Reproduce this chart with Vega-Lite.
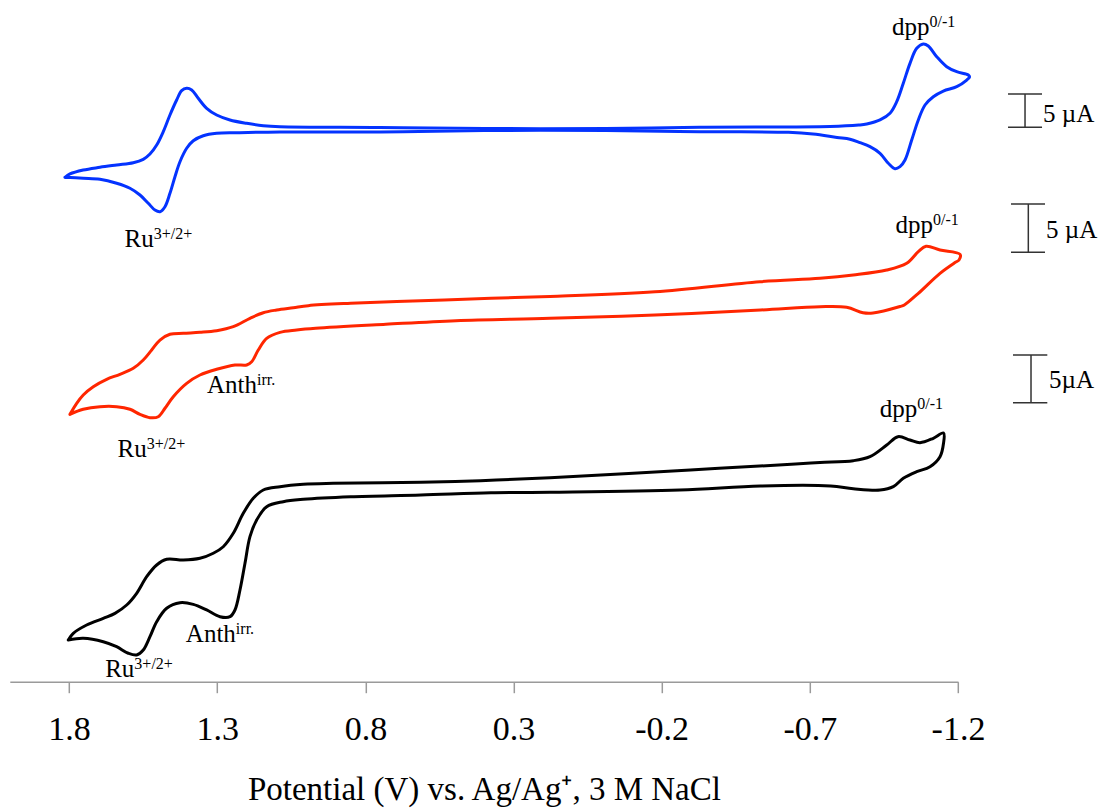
{
  "$schema": "https://vega.github.io/schema/vega-lite/v6.json",
  "width": 948.2,
  "height": 681.7,
  "autosize": {"type": "none"},
  "padding": {"left": 9.8, "top": 0, "right": 142, "bottom": 126.3},
  "background": "white",
  "config": {
    "view": {"stroke": null},
    "font": "Liberation Serif",
    "text": {"font": "Liberation Serif", "color": "black"}
  },
  "datasets": {
    "cv": [
      {"scan": "A", "n": 1, "v": 1.8138, "i": 73.99},
      {"scan": "A", "n": 2, "v": 1.7970, "i": 74.48},
      {"scan": "A", "n": 3, "v": 1.7521, "i": 75.06},
      {"scan": "A", "n": 4, "v": 1.6957, "i": 75.46},
      {"scan": "A", "n": 5, "v": 1.6394, "i": 75.80},
      {"scan": "A", "n": 6, "v": 1.5833, "i": 76.13},
      {"scan": "A", "n": 7, "v": 1.5496, "i": 76.63},
      {"scan": "A", "n": 8, "v": 1.5270, "i": 77.41},
      {"scan": "A", "n": 9, "v": 1.5043, "i": 78.73},
      {"scan": "A", "n": 10, "v": 1.4821, "i": 80.68},
      {"scan": "A", "n": 11, "v": 1.4595, "i": 83.13},
      {"scan": "A", "n": 12, "v": 1.4369, "i": 85.33},
      {"scan": "A", "n": 13, "v": 1.4200, "i": 86.70},
      {"scan": "A", "n": 14, "v": 1.4031, "i": 87.05},
      {"scan": "A", "n": 15, "v": 1.3862, "i": 86.80},
      {"scan": "A", "n": 16, "v": 1.3640, "i": 85.58},
      {"scan": "A", "n": 17, "v": 1.3356, "i": 84.11},
      {"scan": "A", "n": 18, "v": 1.3019, "i": 83.13},
      {"scan": "A", "n": 19, "v": 1.2570, "i": 82.40},
      {"scan": "A", "n": 20, "v": 1.2006, "i": 81.91},
      {"scan": "A", "n": 21, "v": 1.1446, "i": 81.56},
      {"scan": "A", "n": 22, "v": 1.0882, "i": 81.41},
      {"scan": "A", "n": 23, "v": 0.7507, "i": 81.30},
      {"scan": "A", "n": 24, "v": 0.3997, "i": 81.15},
      {"scan": "A", "n": 25, "v": -0.0120, "i": 81.15},
      {"scan": "A", "n": 26, "v": -0.3293, "i": 81.34},
      {"scan": "A", "n": 27, "v": -0.7680, "i": 81.44},
      {"scan": "A", "n": 28, "v": -0.8649, "i": 81.66},
      {"scan": "A", "n": 29, "v": -0.8919, "i": 81.81},
      {"scan": "A", "n": 30, "v": -0.9368, "i": 82.40},
      {"scan": "A", "n": 31, "v": -0.9705, "i": 83.38},
      {"scan": "A", "n": 32, "v": -0.9932, "i": 85.08},
      {"scan": "A", "n": 33, "v": -1.0154, "i": 87.78},
      {"scan": "A", "n": 34, "v": -1.0380, "i": 90.71},
      {"scan": "A", "n": 35, "v": -1.0607, "i": 92.91},
      {"scan": "A", "n": 36, "v": -1.0829, "i": 93.55},
      {"scan": "A", "n": 37, "v": -1.0998, "i": 93.25},
      {"scan": "A", "n": 38, "v": -1.1282, "i": 91.68},
      {"scan": "A", "n": 39, "v": -1.1619, "i": 90.22},
      {"scan": "A", "n": 40, "v": -1.1957, "i": 89.48},
      {"scan": "A", "n": 41, "v": -1.2348, "i": 89.00},
      {"scan": "A", "n": 42, "v": -1.2389, "i": 88.70},
      {"scan": "A", "n": 43, "v": -1.2294, "i": 88.26},
      {"scan": "A", "n": 44, "v": -1.1957, "i": 87.28},
      {"scan": "A", "n": 45, "v": -1.1504, "i": 86.65},
      {"scan": "A", "n": 46, "v": -1.1167, "i": 85.81},
      {"scan": "A", "n": 47, "v": -1.0887, "i": 84.60},
      {"scan": "A", "n": 48, "v": -1.0661, "i": 82.40},
      {"scan": "A", "n": 49, "v": -1.0438, "i": 79.46},
      {"scan": "A", "n": 50, "v": -1.0212, "i": 76.53},
      {"scan": "A", "n": 51, "v": -1.0043, "i": 75.55},
      {"scan": "A", "n": 52, "v": -0.9874, "i": 75.24},
      {"scan": "A", "n": 53, "v": -0.9648, "i": 76.05},
      {"scan": "A", "n": 54, "v": -0.9368, "i": 77.51},
      {"scan": "A", "n": 55, "v": -0.9030, "i": 78.48},
      {"scan": "A", "n": 56, "v": -0.8693, "i": 79.07},
      {"scan": "A", "n": 57, "v": -0.8355, "i": 79.57},
      {"scan": "A", "n": 58, "v": -0.7917, "i": 79.83},
      {"scan": "A", "n": 59, "v": -0.7107, "i": 80.34},
      {"scan": "A", "n": 60, "v": -0.6280, "i": 80.59},
      {"scan": "A", "n": 61, "v": -0.3293, "i": 80.67},
      {"scan": "A", "n": 62, "v": -0.0120, "i": 80.86},
      {"scan": "A", "n": 63, "v": 0.3997, "i": 80.86},
      {"scan": "A", "n": 64, "v": 0.7507, "i": 80.64},
      {"scan": "A", "n": 65, "v": 1.0882, "i": 80.64},
      {"scan": "A", "n": 66, "v": 1.2344, "i": 80.53},
      {"scan": "A", "n": 67, "v": 1.3019, "i": 80.45},
      {"scan": "A", "n": 68, "v": 1.3471, "i": 80.09},
      {"scan": "A", "n": 69, "v": 1.3808, "i": 79.36},
      {"scan": "A", "n": 70, "v": 1.4031, "i": 78.25},
      {"scan": "A", "n": 71, "v": 1.4257, "i": 76.28},
      {"scan": "A", "n": 72, "v": 1.4426, "i": 74.08},
      {"scan": "A", "n": 73, "v": 1.4595, "i": 71.64},
      {"scan": "A", "n": 74, "v": 1.4763, "i": 69.68},
      {"scan": "A", "n": 75, "v": 1.4932, "i": 68.95},
      {"scan": "A", "n": 76, "v": 1.5101, "i": 69.19},
      {"scan": "A", "n": 77, "v": 1.5327, "i": 70.18},
      {"scan": "A", "n": 78, "v": 1.5607, "i": 71.39},
      {"scan": "A", "n": 79, "v": 1.5945, "i": 72.38},
      {"scan": "A", "n": 80, "v": 1.6394, "i": 73.11},
      {"scan": "A", "n": 81, "v": 1.6957, "i": 73.70},
      {"scan": "A", "n": 82, "v": 1.7521, "i": 73.85},
      {"scan": "A", "n": 83, "v": 1.8138, "i": 73.99},

      {"scan": "B", "n": 1, "v": 1.7970, "i": 39.22},
      {"scan": "B", "n": 2, "v": 1.7743, "i": 40.84},
      {"scan": "B", "n": 3, "v": 1.7521, "i": 42.06},
      {"scan": "B", "n": 4, "v": 1.7183, "i": 43.27},
      {"scan": "B", "n": 5, "v": 1.6731, "i": 44.36},
      {"scan": "B", "n": 6, "v": 1.6282, "i": 45.09},
      {"scan": "B", "n": 7, "v": 1.5833, "i": 45.97},
      {"scan": "B", "n": 8, "v": 1.5496, "i": 47.19},
      {"scan": "B", "n": 9, "v": 1.5212, "i": 48.66},
      {"scan": "B", "n": 10, "v": 1.4932, "i": 50.12},
      {"scan": "B", "n": 11, "v": 1.4595, "i": 50.96},
      {"scan": "B", "n": 12, "v": 1.4146, "i": 51.11},
      {"scan": "B", "n": 13, "v": 1.3582, "i": 51.25},
      {"scan": "B", "n": 14, "v": 1.3019, "i": 51.49},
      {"scan": "B", "n": 15, "v": 1.2458, "i": 52.08},
      {"scan": "B", "n": 16, "v": 1.1895, "i": 53.31},
      {"scan": "B", "n": 17, "v": 1.1446, "i": 54.13},
      {"scan": "B", "n": 18, "v": 1.0994, "i": 54.53},
      {"scan": "B", "n": 19, "v": 1.0433, "i": 54.86},
      {"scan": "B", "n": 20, "v": 0.9927, "i": 55.16},
      {"scan": "B", "n": 21, "v": 0.8496, "i": 55.51},
      {"scan": "B", "n": 22, "v": 0.6127, "i": 55.89},
      {"scan": "B", "n": 23, "v": 0.3761, "i": 56.24},
      {"scan": "B", "n": 24, "v": 0.1770, "i": 56.51},
      {"scan": "B", "n": 25, "v": -0.1774, "i": 57.21},
      {"scan": "B", "n": 26, "v": -0.5318, "i": 58.68},
      {"scan": "B", "n": 27, "v": -0.7343, "i": 59.18},
      {"scan": "B", "n": 28, "v": -0.8467, "i": 59.66},
      {"scan": "B", "n": 29, "v": -0.9594, "i": 60.39},
      {"scan": "B", "n": 30, "v": -1.0269, "i": 61.38},
      {"scan": "B", "n": 31, "v": -1.0661, "i": 63.08},
      {"scan": "B", "n": 32, "v": -1.0920, "i": 63.87},
      {"scan": "B", "n": 33, "v": -1.1393, "i": 63.33},
      {"scan": "B", "n": 34, "v": -1.2068, "i": 62.70},
      {"scan": "B", "n": 35, "v": -1.2034, "i": 61.86},
      {"scan": "B", "n": 36, "v": -1.1899, "i": 61.49},
      {"scan": "B", "n": 37, "v": -1.1393, "i": 59.91},
      {"scan": "B", "n": 38, "v": -1.0661, "i": 56.97},
      {"scan": "B", "n": 39, "v": -1.0188, "i": 55.26},
      {"scan": "B", "n": 40, "v": -1.0043, "i": 55.04},
      {"scan": "B", "n": 41, "v": -0.9132, "i": 54.09},
      {"scan": "B", "n": 42, "v": -0.8794, "i": 54.13},
      {"scan": "B", "n": 43, "v": -0.8244, "i": 54.92},
      {"scan": "B", "n": 44, "v": -0.7343, "i": 55.01},
      {"scan": "B", "n": 45, "v": -0.5335, "i": 54.53},
      {"scan": "B", "n": 46, "v": -0.1774, "i": 53.79},
      {"scan": "B", "n": 47, "v": 0.1770, "i": 53.31},
      {"scan": "B", "n": 48, "v": 0.4942, "i": 52.96},
      {"scan": "B", "n": 49, "v": 0.7311, "i": 52.43},
      {"scan": "B", "n": 50, "v": 0.9677, "i": 51.84},
      {"scan": "B", "n": 51, "v": 1.0319, "i": 51.59},
      {"scan": "B", "n": 52, "v": 1.0882, "i": 51.25},
      {"scan": "B", "n": 53, "v": 1.1331, "i": 50.37},
      {"scan": "B", "n": 54, "v": 1.1615, "i": 48.66},
      {"scan": "B", "n": 55, "v": 1.1837, "i": 46.94},
      {"scan": "B", "n": 56, "v": 1.2006, "i": 46.46},
      {"scan": "B", "n": 57, "v": 1.2401, "i": 46.46},
      {"scan": "B", "n": 58, "v": 1.3019, "i": 45.83},
      {"scan": "B", "n": 59, "v": 1.3582, "i": 44.99},
      {"scan": "B", "n": 60, "v": 1.4031, "i": 43.77},
      {"scan": "B", "n": 61, "v": 1.4483, "i": 41.81},
      {"scan": "B", "n": 62, "v": 1.4763, "i": 40.11},
      {"scan": "B", "n": 63, "v": 1.4990, "i": 38.87},
      {"scan": "B", "n": 64, "v": 1.5270, "i": 38.73},
      {"scan": "B", "n": 65, "v": 1.5607, "i": 39.22},
      {"scan": "B", "n": 66, "v": 1.5945, "i": 39.96},
      {"scan": "B", "n": 67, "v": 1.6394, "i": 40.34},
      {"scan": "B", "n": 68, "v": 1.6957, "i": 40.34},
      {"scan": "B", "n": 69, "v": 1.7521, "i": 39.96},
      {"scan": "B", "n": 70, "v": 1.7970, "i": 39.22},

      {"scan": "C", "n": 1, "v": 1.8027, "i": 6.12},
      {"scan": "C", "n": 2, "v": 1.7858, "i": 7.10},
      {"scan": "C", "n": 3, "v": 1.7406, "i": 8.32},
      {"scan": "C", "n": 4, "v": 1.6846, "i": 9.30},
      {"scan": "C", "n": 5, "v": 1.6451, "i": 10.03},
      {"scan": "C", "n": 6, "v": 1.6056, "i": 11.25},
      {"scan": "C", "n": 7, "v": 1.5719, "i": 12.97},
      {"scan": "C", "n": 8, "v": 1.5381, "i": 15.40},
      {"scan": "C", "n": 9, "v": 1.5043, "i": 17.12},
      {"scan": "C", "n": 10, "v": 1.4706, "i": 17.96},
      {"scan": "C", "n": 11, "v": 1.4146, "i": 17.85},
      {"scan": "C", "n": 12, "v": 1.3582, "i": 18.10},
      {"scan": "C", "n": 13, "v": 1.3133, "i": 18.84},
      {"scan": "C", "n": 14, "v": 1.2796, "i": 19.80},
      {"scan": "C", "n": 15, "v": 1.2458, "i": 21.77},
      {"scan": "C", "n": 16, "v": 1.2121, "i": 24.70},
      {"scan": "C", "n": 17, "v": 1.1783, "i": 26.90},
      {"scan": "C", "n": 18, "v": 1.1446, "i": 28.12},
      {"scan": "C", "n": 19, "v": 1.0882, "i": 28.61},
      {"scan": "C", "n": 20, "v": 1.0096, "i": 28.96},
      {"scan": "C", "n": 21, "v": 0.9087, "i": 29.10},
      {"scan": "C", "n": 22, "v": 0.6127, "i": 29.25},
      {"scan": "C", "n": 23, "v": 0.4115, "i": 29.49},
      {"scan": "C", "n": 24, "v": 0.1770, "i": 29.91},
      {"scan": "C", "n": 25, "v": -0.2966, "i": 31.06},
      {"scan": "C", "n": 26, "v": -0.6516, "i": 31.94},
      {"scan": "C", "n": 27, "v": -0.7343, "i": 32.16},
      {"scan": "C", "n": 28, "v": -0.8467, "i": 32.42},
      {"scan": "C", "n": 29, "v": -0.9030, "i": 33.01},
      {"scan": "C", "n": 30, "v": -0.9594, "i": 34.72},
      {"scan": "C", "n": 31, "v": -0.9975, "i": 35.94},
      {"scan": "C", "n": 32, "v": -1.0380, "i": 35.46},
      {"scan": "C", "n": 33, "v": -1.0718, "i": 35.06},
      {"scan": "C", "n": 34, "v": -1.1167, "i": 35.71},
      {"scan": "C", "n": 35, "v": -1.1511, "i": 36.48},
      {"scan": "C", "n": 36, "v": -1.1511, "i": 34.97},
      {"scan": "C", "n": 37, "v": -1.1393, "i": 33.01},
      {"scan": "C", "n": 38, "v": -1.1055, "i": 31.54},
      {"scan": "C", "n": 39, "v": -1.0607, "i": 30.81},
      {"scan": "C", "n": 40, "v": -1.0154, "i": 29.84},
      {"scan": "C", "n": 41, "v": -0.9817, "i": 28.61},
      {"scan": "C", "n": 42, "v": -0.9368, "i": 28.12},
      {"scan": "C", "n": 43, "v": -0.8467, "i": 28.31},
      {"scan": "C", "n": 44, "v": -0.7701, "i": 28.71},
      {"scan": "C", "n": 45, "v": -0.5335, "i": 28.71},
      {"scan": "C", "n": 46, "v": -0.2611, "i": 28.12},
      {"scan": "C", "n": 47, "v": 0.1770, "i": 27.80},
      {"scan": "C", "n": 48, "v": 0.3761, "i": 27.72},
      {"scan": "C", "n": 49, "v": 0.6127, "i": 27.39},
      {"scan": "C", "n": 50, "v": 0.8496, "i": 27.14},
      {"scan": "C", "n": 51, "v": 1.0096, "i": 26.76},
      {"scan": "C", "n": 52, "v": 1.0771, "i": 26.41},
      {"scan": "C", "n": 53, "v": 1.1331, "i": 25.67},
      {"scan": "C", "n": 54, "v": 1.1669, "i": 23.72},
      {"scan": "C", "n": 55, "v": 1.1895, "i": 21.27},
      {"scan": "C", "n": 56, "v": 1.2063, "i": 17.37},
      {"scan": "C", "n": 57, "v": 1.2232, "i": 13.45},
      {"scan": "C", "n": 58, "v": 1.2401, "i": 10.52},
      {"scan": "C", "n": 59, "v": 1.2570, "i": 9.54},
      {"scan": "C", "n": 60, "v": 1.2907, "i": 9.54},
      {"scan": "C", "n": 61, "v": 1.3356, "i": 10.52},
      {"scan": "C", "n": 62, "v": 1.3808, "i": 11.35},
      {"scan": "C", "n": 63, "v": 1.4257, "i": 11.59},
      {"scan": "C", "n": 64, "v": 1.4706, "i": 10.77},
      {"scan": "C", "n": 65, "v": 1.5043, "i": 8.80},
      {"scan": "C", "n": 66, "v": 1.5270, "i": 6.60},
      {"scan": "C", "n": 67, "v": 1.5496, "i": 4.65},
      {"scan": "C", "n": 68, "v": 1.5719, "i": 3.92},
      {"scan": "C", "n": 69, "v": 1.6002, "i": 4.17},
      {"scan": "C", "n": 70, "v": 1.6394, "i": 5.13},
      {"scan": "C", "n": 71, "v": 1.6846, "i": 5.87},
      {"scan": "C", "n": 72, "v": 1.7521, "i": 6.37},
      {"scan": "C", "n": 73, "v": 1.8027, "i": 6.12}
    ],
    "labels": [
      {"base": "Ru", "sup": "3+/2+", "v": 1.6130, "i": 63.81, "vs": 1.5145, "is": 64.98},
      {"base": "dpp", "sup": "0/-1", "v": -0.9773, "i": 94.87, "vs": -1.1039, "is": 96.04},
      {"base": "dpp", "sup": "0/-1", "v": -0.9891, "i": 65.78, "vs": -1.1158, "is": 66.95},
      {"base": "Ru", "sup": "3+/2+", "v": 1.6367, "i": 33.01, "vs": 1.5381, "is": 34.18},
      {"base": "Anth", "sup": "irr.", "v": 1.3346, "i": 42.31, "vs": 1.1658, "is": 43.48},
      {"base": "dpp", "sup": "0/-1", "v": -0.9358, "i": 38.87, "vs": -1.0624, "is": 40.04},
      {"base": "Anth", "sup": "irr.", "v": 1.4058, "i": 5.87, "vs": 1.2371, "is": 7.04},
      {"base": "Ru", "sup": "3+/2+", "v": 1.6782, "i": 0.65, "vs": 1.5796, "is": 1.82}
    ],
    "bars": [
      {"v": -1.4262, "lo": 81.33, "hi": 86.21, "capL": -1.3688, "capR": -1.4836, "tv": -1.4870, "ti": 82.15, "text": "5 µA"},
      {"v": -1.4373, "lo": 62.99, "hi": 70.07, "capL": -1.3789, "capR": -1.4936, "tv": -1.4970, "ti": 65.04, "text": "5 µA"},
      {"v": -1.4464, "lo": 40.93, "hi": 47.92, "capL": -1.3856, "capR": -1.5014, "tv": -1.5071, "ti": 43.04, "text": "5µA"}
    ]
  },
  "layer": [
    {
      "data": {"name": "cv"},
      "mark": {"type": "line", "strokeWidth": 3, "strokeJoin": "round", "strokeCap": "round", "interpolate": "catmull-rom"},
      "encoding": {
        "x": {
          "field": "v", "type": "quantitative",
          "scale": {"domain": [-1.2, 2.0], "reverse": true, "nice": false, "zero": false},
          "axis": {
            "orient": "bottom",
            "values": [1.8, 1.3, 0.8, 0.3, -0.2, -0.7, -1.2],
            "labelExpr": "'' + datum.value",
            "grid": false,
            "domainColor": "#9a9a9a",
            "domainWidth": 1.5,
            "tickColor": "#9a9a9a",
            "tickWidth": 1.5,
            "tickSize": 11,
            "labelFont": "Liberation Serif",
            "labelFontSize": 34,
            "labelColor": "black",
            "labelBaseline": "alphabetic",
            "labelPadding": 47,
            "labelFlush": false,
            "labelOverlap": false,
            "title": "Potential (V) vs. Ag/Ag⁺, 3 M NaCl",
            "titleFont": "Liberation Serif",
            "titleFontSize": 33,
            "titleFontWeight": "normal",
            "titleColor": "black",
            "titleBaseline": "alphabetic",
            "titleY": 117.5
          }
        },
        "y": {
          "field": "i", "type": "quantitative",
          "scale": {"domain": [0, 100], "nice": false, "zero": false},
          "axis": null
        },
        "color": {
          "field": "scan", "type": "nominal",
          "scale": {"domain": ["A", "B", "C"], "range": ["#0433FF", "#FF2600", "#000000"]},
          "legend": null
        },
        "order": {"field": "n", "type": "quantitative"}
      }
    },
    {
      "data": {"name": "bars"},
      "mark": {"type": "rule", "color": "#333333", "strokeWidth": 1.5},
      "encoding": {
        "x": {"field": "v", "type": "quantitative"},
        "y": {"field": "lo", "type": "quantitative"},
        "y2": {"field": "hi"}
      }
    },
    {
      "data": {"name": "bars"},
      "mark": {"type": "rule", "color": "#333333", "strokeWidth": 1.5},
      "encoding": {
        "x": {"field": "capL", "type": "quantitative"},
        "x2": {"field": "capR"},
        "y": {"field": "lo", "type": "quantitative"}
      }
    },
    {
      "data": {"name": "bars"},
      "mark": {"type": "rule", "color": "#333333", "strokeWidth": 1.5},
      "encoding": {
        "x": {"field": "capL", "type": "quantitative"},
        "x2": {"field": "capR"},
        "y": {"field": "hi", "type": "quantitative"}
      }
    },
    {
      "data": {"name": "bars"},
      "mark": {"type": "text", "fontSize": 25, "align": "left", "baseline": "alphabetic"},
      "encoding": {
        "x": {"field": "tv", "type": "quantitative"},
        "y": {"field": "ti", "type": "quantitative"},
        "text": {"field": "text"}
      }
    },
    {
      "data": {"name": "labels"},
      "mark": {"type": "text", "fontSize": 25, "align": "left", "baseline": "alphabetic"},
      "encoding": {
        "x": {"field": "v", "type": "quantitative"},
        "y": {"field": "i", "type": "quantitative"},
        "text": {"field": "base"}
      }
    },
    {
      "data": {"name": "labels"},
      "mark": {"type": "text", "fontSize": 16, "align": "left", "baseline": "alphabetic"},
      "encoding": {
        "x": {"field": "vs", "type": "quantitative"},
        "y": {"field": "is", "type": "quantitative"},
        "text": {"field": "sup"}
      }
    }
  ]
}
